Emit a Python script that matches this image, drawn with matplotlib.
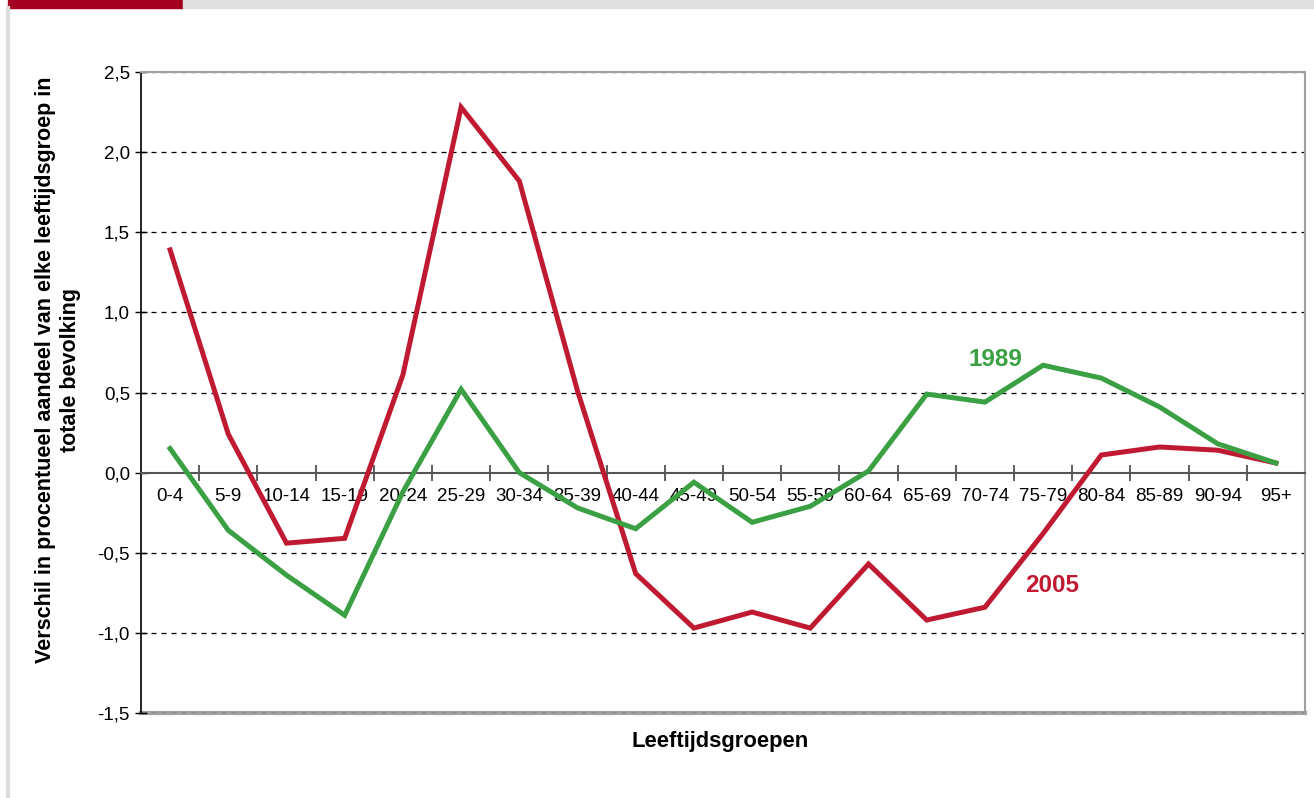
import matplotlib
matplotlib.use("Agg")
from matplotlib import pyplot as plt
from matplotlib.patches import Rectangle
from matplotlib.lines import Line2D

plt.rcParams['font.family'] = ['Liberation Sans', 'DejaVu Sans']

# age groups on the x axis
age_groups = ["0-4", "5-9", "10-14", "15-19", "20-24", "25-29", "30-34",
              "35-39", "40-44", "45-49", "50-54", "55-59", "60-64", "65-69",
              "70-74", "75-79", "80-84", "85-89", "90-94", "95+"]

# difference in share of each age group (percentage points)
diff_1989 = [0.15, -0.36, -0.64, -0.89, -0.12, 0.52, 0.00, -0.22, -0.35, -0.06,
             -0.31, -0.21, 0.01, 0.49, 0.44, 0.67, 0.59, 0.41, 0.18, 0.06]
diff_2005 = [1.39, 0.24, -0.44, -0.41, 0.61, 2.28, 1.82, 0.51, -0.63, -0.97,
             -0.87, -0.97, -0.57, -0.92, -0.84, -0.38, 0.11, 0.16, 0.14, 0.06]

y_ticks = [-1.5, -1.0, -0.5, 0.0, 0.5, 1.0, 1.5, 2.0, 2.5]

RED = "#c01a32"
GREEN = "#3aa043"

fig = plt.figure(figsize=(13.14, 7.98), dpi=100)

# header strip and left page rule
fig.patches.append(Rectangle((8 / 1314, 1 - 8 / 798), 175 / 1314, 8 / 798,
                             transform=fig.transFigure, color="#a50021", zorder=0))
fig.patches.append(Rectangle((183 / 1314, 1 - 8 / 798), 1 - 183 / 1314, 8 / 798,
                             transform=fig.transFigure, color="#e0e0e0", zorder=0))
fig.lines.append(Line2D([8 / 1314, 8 / 1314], [0, 1 - 8 / 798],
                        transform=fig.transFigure, color="#dddddd", lw=3))

ax = fig.add_axes([141 / 1314, 1 - 713 / 798, 1164 / 1314, 641 / 798])

x = list(range(len(age_groups)))
ax.plot(x, diff_2005, color=RED, lw=3.6, solid_joinstyle="miter", zorder=3)
ax.plot(x, diff_1989, color=GREEN, lw=3.6, solid_joinstyle="miter", zorder=3)

ax.set_xlim(-0.5, len(age_groups) - 0.5)
ax.set_ylim(-1.5, 2.5)

# dashed gridlines
for v in y_ticks:
    if v != 0.0:
        ax.axhline(v, color="black", lw=0.9, ls=(0, (4, 4)), zorder=1)

# frame
for side in ["top", "right"]:
    ax.spines[side].set_color("#a0a0a0")
    ax.spines[side].set_linewidth(1.5)
ax.spines["left"].set_color("black")
ax.spines["left"].set_linewidth(1.2)
ax.spines["bottom"].set_position(("data", 0))
ax.spines["bottom"].set_color("#555555")
ax.spines["bottom"].set_linewidth(1.5)
ax.axhline(-1.5, color="#a0a0a0", lw=3, zorder=0, clip_on=False)

# x axis: labels at centres, ticks at boundaries
ax.set_xticks(x)
ax.set_xticklabels(age_groups, fontsize=13.5)
ax.set_xticks([i - 0.5 for i in range(1, len(age_groups) + 1)], minor=True)
ax.tick_params(axis="x", which="major", length=0, pad=11)
ax.tick_params(axis="x", which="minor", direction="inout", length=11,
               width=1.1, color="#333333")

ax.set_yticks(y_ticks)
ax.set_yticklabels([f"{v:.1f}".replace(".", ",") for v in y_ticks], fontsize=13.5)
ax.tick_params(axis="y", direction="inout", length=8, width=1.0, pad=4)

ax.annotate("1989", xy=(995 / 1314, 1 - 359 / 798), xycoords="figure fraction",
            ha="center", va="center", fontsize=17.5, fontweight="bold", color=GREEN)
ax.annotate("2005", xy=(1052 / 1314, 1 - 585 / 798), xycoords="figure fraction",
            ha="center", va="center", fontsize=17.5, fontweight="bold", color=RED)

fig.text(58 / 1314, 1 - 370 / 798,
         "Verschil in procentueel aandeel van elke leeftijdsgroep in\ntotale bevolking",
         rotation=90, ha="center", va="center", multialignment="center",
         fontsize=15.5, fontweight="bold", linespacing=1.2)
fig.text(720 / 1314, 1 - 742 / 798, "Leeftijdsgroepen", ha="center", va="center",
         fontsize=15.8, fontweight="bold")

fig.savefig("out.png", dpi=100)
